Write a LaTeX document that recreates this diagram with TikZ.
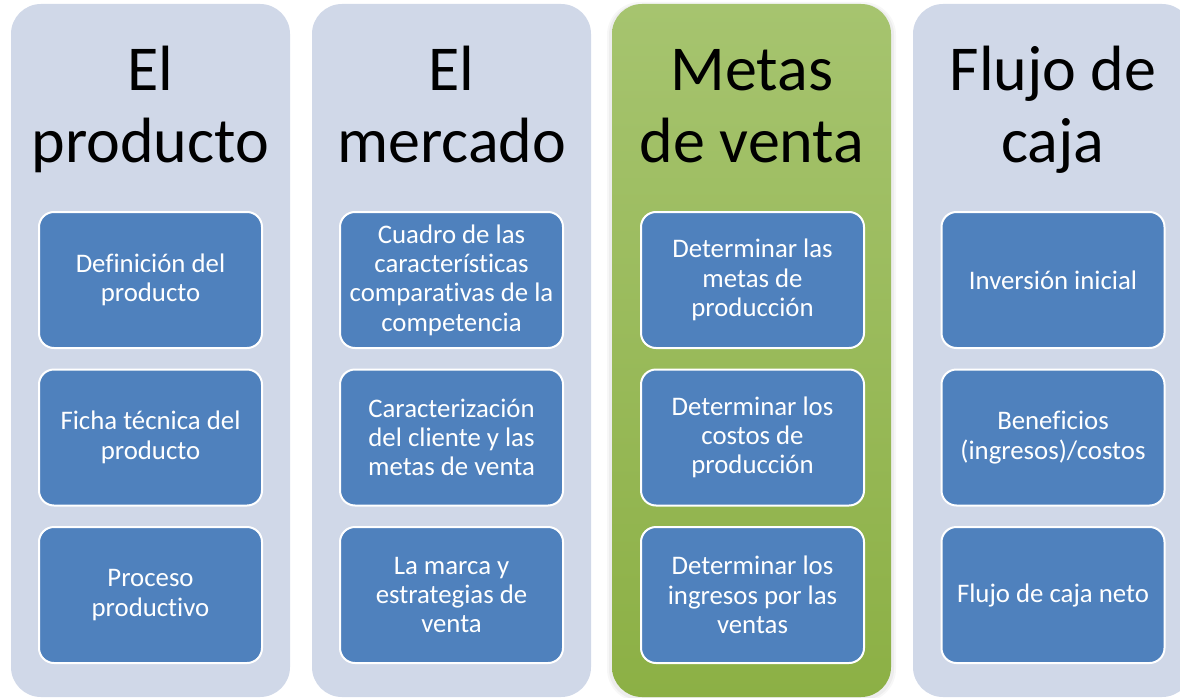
\documentclass[tikz,border=0pt]{standalone}
\usepackage{fontspec}
\setmainfont[Ligatures=NoCommon]{Carlito}
\usetikzlibrary{shapes.misc}
\definecolor{colbg}{HTML}{D0D8E8}
\definecolor{boxblue}{HTML}{4F81BD}
\definecolor{greentop}{HTML}{A6C46F}
\definecolor{greenbot}{HTML}{8CB045}
\tikzset{
  column/.style={fill=colbg, rounded corners=30pt},
  title/.style={anchor=base, align=center, text=black, inner sep=0pt,
    font=\fontsize{64}{72}\selectfont},
  item/.style={fill=boxblue, draw=white, line width=2pt, rounded corners=15pt,
    minimum width=223pt, minimum height=136pt, align=center, text=white,
    inner sep=2pt, font=\fontsize{26.8}{29.3}\selectfont}
}
\begin{document}
\begin{tikzpicture}[x=1pt,y=-1pt]
\useasboundingbox (0,0) rectangle (1180,698);
\clip (0,0) rectangle (1180,698);
\fill[white] (0,0) rectangle (1180,698);
% columns
\fill[column] (11,4) rectangle (290,697);
\fill[column] (312,4) rectangle (591,697);
\fill[black, opacity=0.03, rounded corners=33pt] (607,2) rectangle (896,702);
\fill[black, opacity=0.04, rounded corners=31pt] (609,4) rectangle (894,700);
\shade[rounded corners=30pt, top color=greentop, bottom color=greenbot] (612,4) rectangle (891,697);
\fill[column] (913,4) rectangle (1192,697);
% titles
\node[title] (t1) at (150.5,162) {El\\producto};
\node[title] (t2) at (451.5,162) {El\\mercado};
\node[title] (t3) at (752,162) {Metas\\de venta};
\node[title] (t4) at (1053,162) {Flujo de\\caja};
% column 1
\node[item] (a1) at (150.5,280) {Definición del\\producto};
\node[item] (a2) at (150.5,437.5) {Ficha técnica del\\producto};
\node[item] (a3) at (150.5,595) {Proceso\\productivo};
% column 2
\node[item] (b1) at (451.5,280) {Cuadro de las\\características\\comparativas de la\\competencia};
\node[item] (b2) at (451.5,437.5) {Caracterización\\del cliente y las\\metas de venta};
\node[item] (b3) at (451.5,595) {La marca y\\estrategias de\\venta};
% column 3
\node[item] (c1) at (752.5,280) {Determinar las\\metas de\\producción};
\node[item] (c2) at (752.5,437.5) {Determinar los\\costos de\\producción};
\node[item] (c3) at (752.5,595) {Determinar los\\ingresos por las\\ventas};
% column 4
\node[item] (d1) at (1053,280) {Inversión inicial};
\node[item] (d2) at (1053,437.5) {Beneficios\\(ingresos)/costos};
\node[item] (d3) at (1053,595) {Flujo de caja neto};
\end{tikzpicture}
\end{document}
